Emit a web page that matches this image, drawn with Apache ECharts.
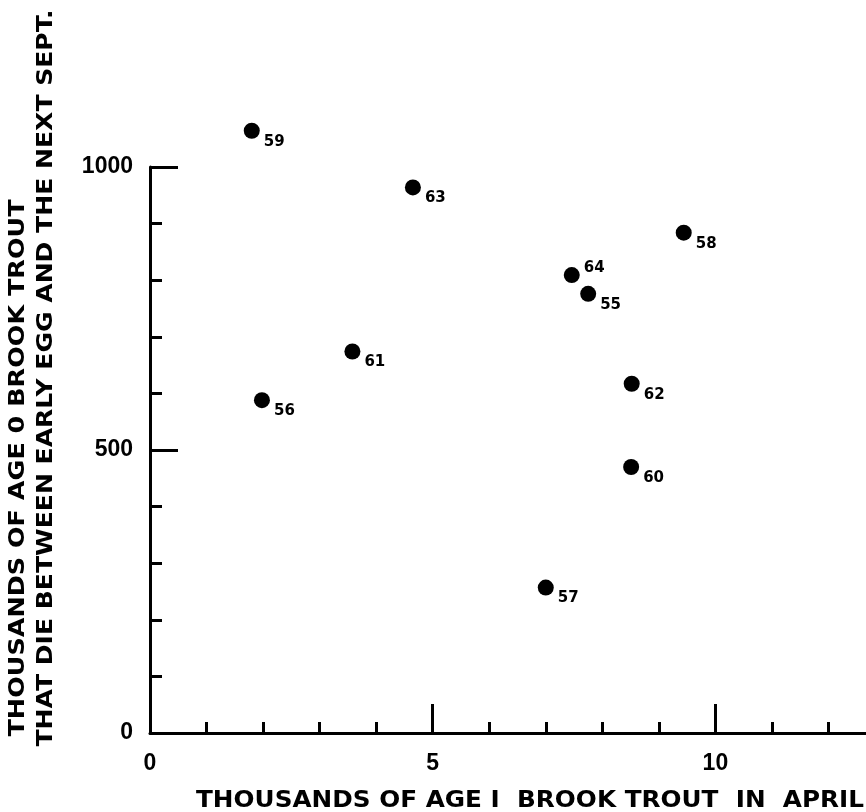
<!DOCTYPE html>
<html>
<head>
<meta charset="utf-8">
<style>
  html, body { margin: 0; padding: 0; background: #fff; }
  #chart { width: 866px; height: 812px; }
</style>
<script src="https://cdn.jsdelivr.net/npm/echarts@6/dist/echarts.min.js"></script>
</head>
<body>
<div id="chart"></div>
<script>
// ---- data ----
const yearLabels = ['55', '56', '57', '58', '59', '60', '61', '62', '63', '64'];
const ageIInApril = [7.75, 1.98, 7.00, 9.44, 1.80, 8.51, 3.58, 8.52, 4.65, 7.46];
const age0Deaths = [776, 588, 257, 884, 1064, 470, 674, 617, 964, 809];
const xTickLabels = [0, 5, 10];
const xMinorTicks = [0, 1, 2, 3, 4, 5, 6, 7, 8, 9, 10, 11, 12];
const yTickLabels = [0, 500, 1000];
const yMinorTicks = [0, 100, 200, 300, 400, 500, 600, 700, 800, 900, 1000];
const labelsAbove = ['64'];

const xTitle = 'THOUSANDS OF AGE I  BROOK TROUT  IN  APRIL';
const yTitle1 = 'THOUSANDS OF AGE 0 BROOK TROUT';
const yTitle2 = 'THAT DIE BETWEEN EARLY EGG AND THE NEXT SEPT.';

// ---- helpers ----
const measureCtx = document.createElement('canvas').getContext('2d');
function fitScale(text, font, target) {
  measureCtx.font = font;
  return target / measureCtx.measureText(text).width;
}

const tickFont = { fontFamily: 'Liberation Sans', fontWeight: 'bold', fontSize: 23, color: '#000' };
const titleFontY = 'bold 21px "DejaVu Sans"';
const titleFontX = 'bold 23px "DejaVu Sans"';

const points = yearLabels.map((yr, i) => {
  const above = labelsAbove.includes(yr);
  return {
    name: yr,
    value: [ageIInApril[i], age0Deaths[i]],
    label: { position: above ? [20, 1] : [20, 19] }
  };
});

const chart = echarts.init(document.getElementById('chart'), null, { renderer: 'canvas' });

const commonLine = { show: true, lineStyle: { color: '#000', width: 3 } };

chart.setOption({
  animation: false,
  backgroundColor: '#fff',
  grid: { left: 150, top: 167, width: 735, height: 566, containLabel: false, outerBoundsMode: 'none' },
  xAxis: [
    {
      type: 'value', min: 0, max: 13, interval: 1, position: 'bottom',
      axisLine: commonLine,
      axisTick: { show: true, inside: true, length: 11, customValues: xMinorTicks, lineStyle: { color: '#000', width: 3 } },
      splitLine: { show: false },
      axisLabel: {
        show: true, margin: 19, ...tickFont, customValues: xTickLabels,
        formatter: v => (xTickLabels.includes(v) ? String(v) : '')
      }
    },
    {
      type: 'value', min: 0, max: 13, interval: 5, position: 'bottom', offset: 0,
      axisLine: { show: false },
      axisTick: { show: true, inside: true, length: 29, customValues: xTickLabels, lineStyle: { color: '#000', width: 3 } },
      splitLine: { show: false },
      axisLabel: { show: false }
    }
  ],
  yAxis: [
    {
      type: 'value', min: 0, max: 1000, interval: 100, position: 'left',
      axisLine: commonLine,
      axisTick: { show: true, inside: true, length: 12, customValues: yMinorTicks, lineStyle: { color: '#000', width: 3 } },
      splitLine: { show: false },
      axisLabel: {
        show: true, margin: 17, ...tickFont, customValues: yTickLabels,
        formatter: v => (yTickLabels.includes(v) ? String(v) : '')
      }
    },
    {
      type: 'value', min: 0, max: 1000, interval: 500, position: 'left', offset: 0,
      axisLine: { show: false },
      axisTick: { show: true, inside: true, length: 28, customValues: yTickLabels, lineStyle: { color: '#000', width: 3 } },
      splitLine: { show: false },
      axisLabel: { show: false }
    }
  ],
  series: [{
    type: 'scatter',
    xAxisIndex: 0, yAxisIndex: 0,
    clip: false,
    symbol: 'circle',
    symbolSize: 16,
    itemStyle: { color: '#000', opacity: 1 },
    label: {
      show: true,
      formatter: p => p.name,
      align: 'left', verticalAlign: 'middle',
      fontFamily: 'DejaVu Sans', fontWeight: 'bold', fontSize: 15, color: '#000'
    },
    emphasis: { disabled: true },
    data: points
  }],
  graphic: [
    {
      type: 'text', x: 19, y: 468, rotation: Math.PI / 2,
      scaleX: fitScale(yTitle1, titleFontY, 537),
      style: { text: yTitle1, font: titleFontY, fill: '#000', align: 'center', verticalAlign: 'middle', textAlign: 'center', textVerticalAlign: 'middle' }
    },
    {
      type: 'text', x: 47, y: 378, rotation: Math.PI / 2,
      scaleX: fitScale(yTitle2, titleFontY, 737),
      style: { text: yTitle2, font: titleFontY, fill: '#000', align: 'center', verticalAlign: 'middle', textAlign: 'center', textVerticalAlign: 'middle' }
    },
    {
      type: 'text', x: 530, y: 801,
      scaleX: fitScale(xTitle, titleFontX, 668),
      style: { text: xTitle, font: titleFontX, fill: '#000', align: 'center', verticalAlign: 'middle', textAlign: 'center', textVerticalAlign: 'middle' }
    }
  ]
});
</script>
</body>
</html>
